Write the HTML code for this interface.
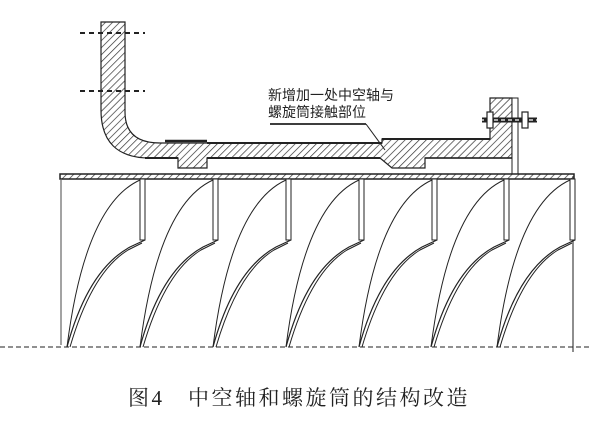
<!DOCTYPE html>
<html><head><meta charset="utf-8"><style>
html,body{margin:0;padding:0;background:#fff;width:600px;height:429px;overflow:hidden}
</style></head><body>
<svg width="600" height="429" viewBox="0 0 600 429" xmlns="http://www.w3.org/2000/svg">
<defs>
<pattern id="h" width="5" height="5" patternUnits="userSpaceOnUse" patternTransform="rotate(45)">
<rect width="5" height="5" fill="#fff"/><line x1="0" y1="0" x2="0" y2="5" stroke="#333" stroke-width="1.4"/>
</pattern>
</defs>
<g stroke="#222" fill="none">
<path d="M101,22 L125,22 L125,112 Q125,143 160,143 L382,143 L382,139 L490,139 L490,98 L512,98 L512,158 L425,158 L425,168 L392,168 L380,158 L207,158 L207,168 L178,168 L178,158 L150,158 Q101,158 101,110 Z" fill="url(#h)" stroke-width="1.2"/>
<line x1="165" y1="141" x2="207" y2="141" stroke-width="2.5"/>
<line x1="207" y1="143" x2="382" y2="143" stroke-width="2"/>
<line x1="382" y1="139" x2="490" y2="139" stroke-width="2"/>
<line x1="145" y1="158" x2="178" y2="158" stroke-width="2"/>
<line x1="207" y1="158" x2="380" y2="158" stroke-width="2"/>
<line x1="425" y1="158" x2="512" y2="158" stroke-width="1.5"/>
<rect x="512" y="98" width="6" height="78" fill="#fff" stroke-width="1"/>
<line x1="482" y1="120" x2="537" y2="120" stroke-width="5"/>
<line x1="480" y1="120" x2="540" y2="120" stroke="#fff" stroke-width="1.2" stroke-dasharray="4 3"/>
<rect x="487" y="112" width="6" height="16" stroke-width="1.2" fill="#fff"/>
<rect x="522" y="112" width="6" height="16" stroke-width="1.2" fill="#fff"/>
<line x1="80" y1="33" x2="145" y2="33" stroke-width="2" stroke-dasharray="5 4"/>
<line x1="80" y1="91" x2="145" y2="91" stroke-width="2" stroke-dasharray="5 4"/>
<line x1="270" y1="124" x2="366" y2="124" stroke-width="1.8"/>
<line x1="366" y1="124" x2="385" y2="150" stroke-width="1"/>
<rect x="60" y="174" width="514" height="5" fill="url(#h)" stroke-width="1.5"/>
<line x1="61" y1="179" x2="61" y2="345" stroke="#666" stroke-width="1.2"/>
<line x1="573" y1="176" x2="573" y2="352" stroke="#444" stroke-width="1.2"/>
<line x1="0" y1="347" x2="592" y2="347" stroke-width="1" stroke-dasharray="5 3"/>
</g>
<g stroke="#222" fill="none" stroke-width="1">
<g id="b">
<rect x="140" y="179" width="5" height="61" fill="#fff"/>
<path d="M140,180 Q85,205 67,347"/>
<path d="M145,240 L130,247 Q88,270 67,347" stroke-width="1.2"/>
<path d="M142,243 L128,250 Q92,272 70,347" stroke-width="1"/>
</g>
<use href="#b" x="73"/>
<use href="#b" x="146"/>
<use href="#b" x="219"/>
<use href="#b" x="292"/>
<use href="#b" x="364"/>
<use href="#b" x="430"/>
</g>
<text x="268" y="100" font-family="Liberation Sans,'Noto Sans CJK SC',sans-serif" font-size="14" fill="#222">新增加一处中空轴与</text>
<text x="268" y="117" font-family="Liberation Sans,'Noto Sans CJK SC',sans-serif" font-size="14" fill="#222">螺旋筒接触部位</text>
<text x="128" y="405" font-family="'Liberation Serif','Noto Serif CJK SC',serif" font-size="21" fill="#222" letter-spacing="2.5">图4</text>
<text x="188" y="405" font-family="'Liberation Serif','Noto Serif CJK SC',serif" font-size="21" fill="#222" letter-spacing="2.5">中空轴和螺旋筒的结构改造</text>
</svg>
</body></html>
